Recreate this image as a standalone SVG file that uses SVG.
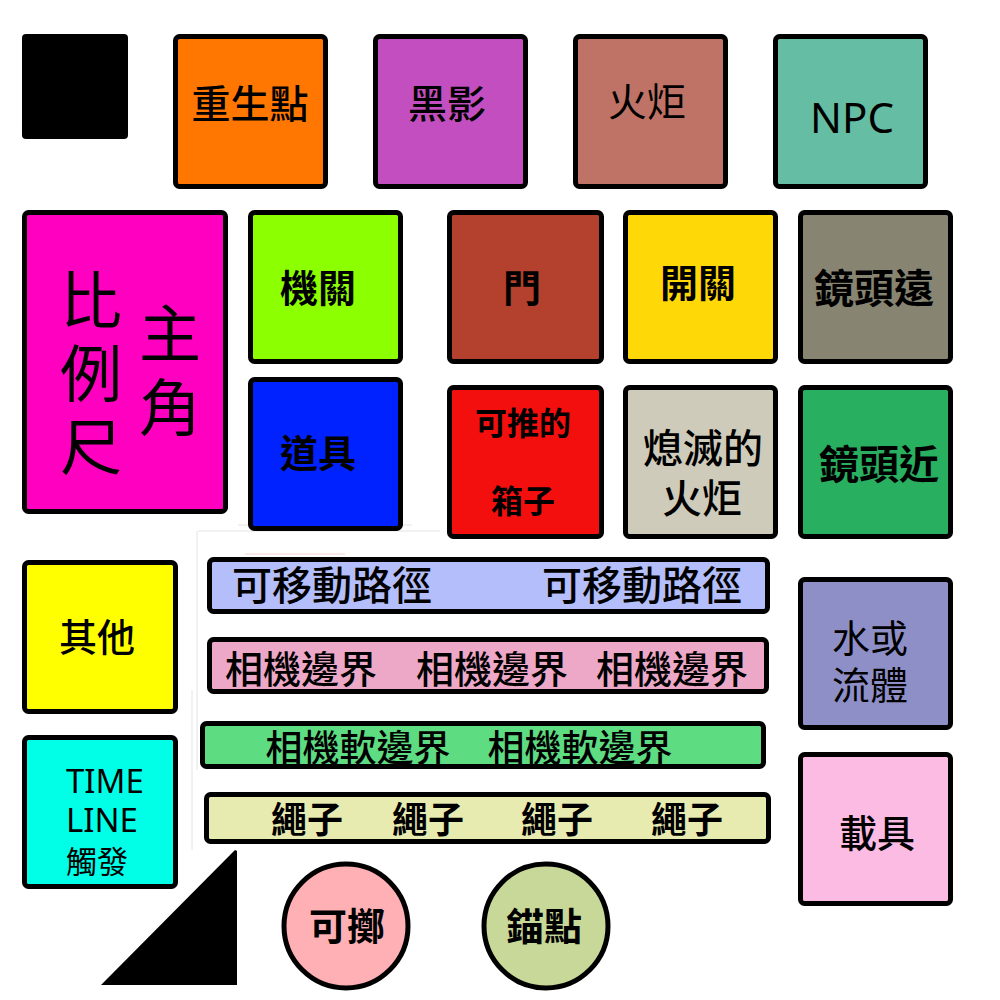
<svg xmlns="http://www.w3.org/2000/svg" width="1000" height="1000" viewBox="0 0 1000 1000">
<style>
.n rect,.n circle{stroke:#000;stroke-width:5}
text{font-family:"Noto Sans CJK TC","Noto Sans",sans-serif;fill:#000;text-anchor:middle}
.b{font-weight:700}
.m{font-weight:500}
.r{font-weight:400}
.lat{font-family:"Noto Sans","Open Sans",sans-serif;text-anchor:start}
</style>
<rect width="1000" height="1000" fill="#fff"/>
<g id="artifacts" stroke-width="1" fill="none">
<path d="M238 525H412M198 531H440M197 531V770M192 690V850" stroke="#e4e4e4"/>
<path d="M245 554H345" stroke="#f6d0d0"/>
</g>
<g id="black-square"><rect x="22" y="34" width="106" height="105" rx="4" fill="#000"/></g>
<g id="respawn" class="n"><rect x="175.5" y="36.5" width="150" height="150" rx="4" fill="#FF7700"/><text x="250" y="118" font-size="39" class="m">重生點</text></g>
<g id="shadow" class="n"><rect x="375.5" y="36.5" width="150" height="150" rx="4" fill="#C34EBF"/><text x="447" y="118" font-size="39" class="m">黑影</text></g>
<g id="torch" class="n"><rect x="575.5" y="36.5" width="150" height="150" rx="4" fill="#BE7366"/><text x="647" y="116" font-size="39" class="r">火炬</text></g>
<g id="npc" class="n"><rect x="775.5" y="36.5" width="150" height="150" rx="4" fill="#65BEA3"/><text x="852" y="133" font-size="42" style="font-family:'Noto Sans','Open Sans',sans-serif">NPC</text></g>

<g id="protagonist" class="n"><rect x="24.5" y="212.5" width="201" height="299" rx="4" fill="#FF00C0"/>
<text x="91" y="324" font-size="62" class="r">比</text>
<text x="91" y="397" font-size="62" class="r">例</text>
<text x="91" y="470" font-size="62" class="r">尺</text>
<text x="170" y="357" font-size="62" class="r">主</text>
<text x="170" y="431" font-size="62" class="r">角</text></g>
<g id="mechanism" class="n"><rect x="250.5" y="212.5" width="150" height="149" rx="4" fill="#8CFF00"/><text x="318" y="302" font-size="38" class="b">機關</text></g>
<g id="item" class="n"><rect x="250.5" y="379.5" width="150" height="149" rx="4" fill="#0022FF"/><text x="318" y="467" font-size="38" class="b">道具</text></g>
<g id="door" class="n"><rect x="449.5" y="212.5" width="152" height="149" rx="4" fill="#B4402E"/><text x="522" y="302" font-size="38" class="b">門</text></g>
<g id="switch" class="n"><rect x="625.5" y="212.5" width="150" height="149" rx="4" fill="#FFD808"/><text x="698" y="297" font-size="38" class="b">開關</text></g>
<g id="camera-far" class="n"><rect x="800.5" y="212.5" width="150" height="149" rx="4" fill="#878472"/><text x="874" y="303" font-size="40" class="b">鏡頭遠</text></g>
<g id="pushbox" class="n"><rect x="449.5" y="387.5" width="152" height="149" rx="4" fill="#F40F0F"/><text x="523" y="435" font-size="32" class="b">可推的</text><text x="523" y="513" font-size="32" class="b">箱子</text></g>
<g id="extinguished-torch" class="n"><rect x="625.5" y="387.5" width="150" height="149" rx="4" fill="#CFCBBA"/><text x="703" y="463" font-size="40" class="m">熄滅的</text><text x="702" y="513" font-size="40" class="m">火炬</text></g>
<g id="camera-near" class="n"><rect x="800.5" y="387.5" width="150" height="149" rx="4" fill="#28AF60"/><text x="879" y="479" font-size="40" class="b">鏡頭近</text></g>

<g id="other" class="n"><rect x="24.5" y="562.5" width="151" height="149" rx="4" fill="#FFFF00"/><text x="97" y="651" font-size="38" class="m">其他</text></g>
<g id="timeline" class="n"><rect x="24.5" y="737.5" width="151" height="149" rx="4" fill="#00FFE6"/><text x="66" y="793" font-size="33" class="lat">TIME</text><text x="66" y="832" font-size="33" class="lat">LINE</text><text x="66" y="873" font-size="31" class="r" style="text-anchor:start">觸發</text></g>

<g id="move-path" class="n"><rect x="209.5" y="559.5" width="558" height="52" rx="4" fill="#B4BEFA"/><text x="332" y="600" font-size="40" class="m">可移動路徑</text><text x="642" y="600" font-size="40" class="m">可移動路徑</text></g>
<g id="camera-bound" class="n"><rect x="209.5" y="639.5" width="557" height="52" rx="4" fill="#EDA8C8"/><text x="301" y="683" font-size="38" class="m">相機邊界</text><text x="492" y="683" font-size="38" class="m">相機邊界</text><text x="672" y="683" font-size="38" class="m">相機邊界</text></g>
<g id="camera-soft-bound" class="n"><rect x="202.5" y="723.5" width="561" height="43" rx="4" fill="#5EDC82"/><text x="358" y="762" font-size="37" class="m">相機軟邊界</text><text x="580" y="762" font-size="37" class="m">相機軟邊界</text></g>
<g id="rope" class="n"><rect x="206.5" y="794.5" width="562" height="47" rx="4" fill="#E8EBB0"/><text x="307" y="833" font-size="36" class="b">繩子</text><text x="428" y="833" font-size="36" class="b">繩子</text><text x="557" y="833" font-size="36" class="b">繩子</text><text x="687" y="833" font-size="36" class="b">繩子</text></g>

<g id="water" class="n"><rect x="800.5" y="579.5" width="150" height="148" rx="4" fill="#8F8FC8"/><text x="870" y="652" font-size="38" class="r">水或</text><text x="870" y="699" font-size="38" class="r">流體</text></g>
<g id="vehicle" class="n"><rect x="800.5" y="754.5" width="150" height="149" rx="4" fill="#FBBBE3"/><text x="877" y="847" font-size="38" class="m">載具</text></g>

<g id="triangle"><polygon points="101,985 235,850 237,851 237,985" fill="#000"/></g>
<g id="throwable" class="n"><circle cx="346" cy="926" r="62" fill="#FEB0B5"/><text x="347" y="940" font-size="38" class="b">可擲</text></g>
<g id="anchor" class="n"><circle cx="546" cy="926" r="62" fill="#C8D898"/><text x="544" y="940" font-size="38" class="b">錨點</text></g>
<g id="connectors"/>
</svg>
